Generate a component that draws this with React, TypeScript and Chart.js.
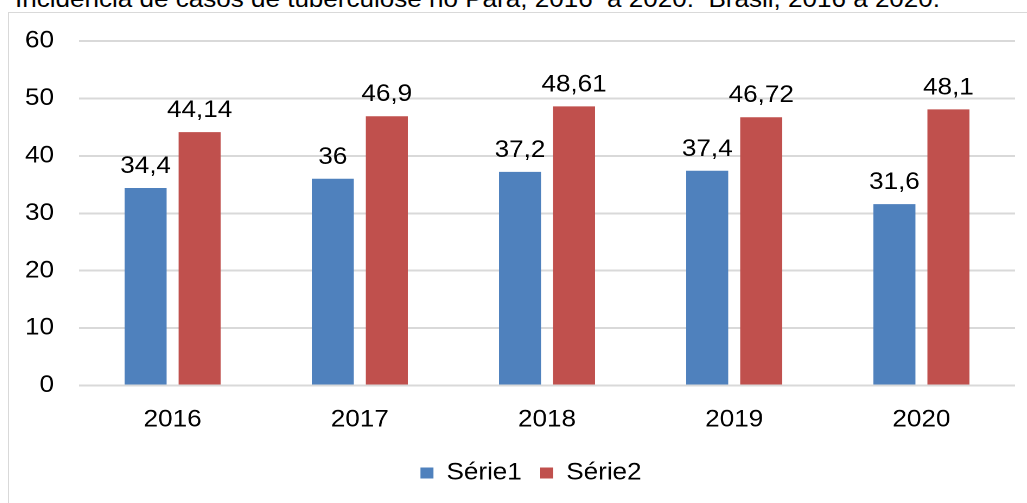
import React, { useEffect, useRef } from "react";
import { Chart, registerables } from "chart.js";

Chart.register(...registerables);

const categories = ["2016", "2017", "2018", "2019", "2020"];
const serie1 = [34.4, 36, 37.2, 37.4, 31.6];
const serie2 = [44.14, 46.9, 48.61, 46.72, 48.1];
const seriesNames = ["Série1", "Série2"];
const seriesColors = ["#4f81bd", "#c0504d"];
const yTicks = [0, 10, 20, 30, 40, 50, 60];
const titleText = "Incidência de casos de tuberculose no Pará, 2016  a 2020.  Brasil, 2016 a 2020.";

const FONT = "'Liberation Sans', Arial, sans-serif";
const STRETCH = 1.085; // reference is slightly wider than tall
const CANVAS_W = 962;
const CANVAS_H = 490;

const dataLabels = {
  id: "dataLabels",
  afterDatasetsDraw(chart: any) {
    const ctx = chart.ctx;
    ctx.save();
    ctx.font = `24px ${FONT}`;
    ctx.fillStyle = "#000";
    ctx.textAlign = "center";
    ctx.textBaseline = "alphabetic";
    chart.data.datasets.forEach((ds: any, i: number) => {
      const meta = chart.getDatasetMeta(i);
      meta.data.forEach((bar: any, j: number) => {
        const v = ds.data[j];
        ctx.fillText(String(v).replace(".", ","), bar.x, bar.y - 15);
      });
    });
    ctx.restore();
  },
};

export default function App() {
  const ref = useRef<HTMLCanvasElement>(null);
  useEffect(() => {
    if (!ref.current) return;
    const chart = new Chart(ref.current, {
      type: "bar",
      data: {
        labels: categories,
        datasets: [
          { label: seriesNames[0], data: serie1, backgroundColor: seriesColors[0], categoryPercentage: 0.577, barPercentage: 0.778 },
          { label: seriesNames[1], data: serie2, backgroundColor: seriesColors[1], categoryPercentage: 0.577, barPercentage: 0.778 },
        ],
      },
      options: {
        animation: false,
        responsive: false,
        devicePixelRatio: 2,
        layout: { padding: { left: 0, right: 0, top: 28, bottom: 8 } },
        scales: {
          x: {
            grid: { display: false, drawTicks: false },
            border: { display: false },
            ticks: { color: "#000", font: { family: FONT, size: 24 }, padding: 20 },
            afterFit: (scale: any) => {
              scale.height = 58.5;
              scale.paddingLeft = 0;
              scale.paddingRight = 0;
            },
          },
          y: {
            min: 0,
            max: 60,
            afterBuildTicks: (axis: any) => {
              axis.ticks = yTicks.map((v) => ({ value: v }));
            },
            grid: { color: "#d9d9d9", lineWidth: 2, drawTicks: false },
            border: { display: false },
            ticks: { color: "#000", font: { family: FONT, size: 24 }, padding: 23 },
            afterFit: (scale: any) => {
              scale.width = 64.5;
              scale.paddingTop = 0;
              scale.paddingBottom = 0;
            },
          },
          spacer: {
            type: "linear",
            position: "right",
            display: true,
            min: 0,
            max: 60,
            grid: { display: false, drawTicks: false },
            border: { display: false },
            ticks: { display: false },
            afterFit: (scale: any) => {
              scale.width = 35;
              scale.paddingTop = 0;
              scale.paddingBottom = 0;
            },
          },
        },
        plugins: {
          legend: {
            position: "bottom",
            labels: {
              boxWidth: 12,
              boxHeight: 11,
              padding: 17,
              color: "#000",
              font: { family: FONT, size: 24 },
            },
          },
          tooltip: { enabled: false },
          title: { display: false },
        },
      },
      plugins: [dataLabels],
    });
    return () => chart.destroy();
  }, []);

  return (
    <div style={{ position: "fixed", left: 0, top: 0, width: 1027, height: 503, overflow: "hidden", background: "#fff" }}>
      <div
        style={{
          position: "absolute",
          left: 15,
          top: -13,
          whiteSpace: "pre",
          fontFamily: FONT,
          fontSize: 24,
          lineHeight: "24px",
          color: "#000",
          transform: `scaleX(${STRETCH})`,
          transformOrigin: "0 0",
        }}
      >
        {titleText}
      </div>
      <div
        style={{
          position: "absolute",
          left: 8,
          top: 12,
          width: 1060,
          height: 500,
          borderLeft: "1px solid #d9d9d9",
          borderTop: "1px solid #d9d9d9",
        }}
      >
        <canvas
          ref={ref}
          width={CANVAS_W}
          height={CANVAS_H}
          style={{ display: "block", width: `${Math.round(CANVAS_W * STRETCH)}px`, height: `${CANVAS_H}px` }}
        />
      </div>
    </div>
  );
}
